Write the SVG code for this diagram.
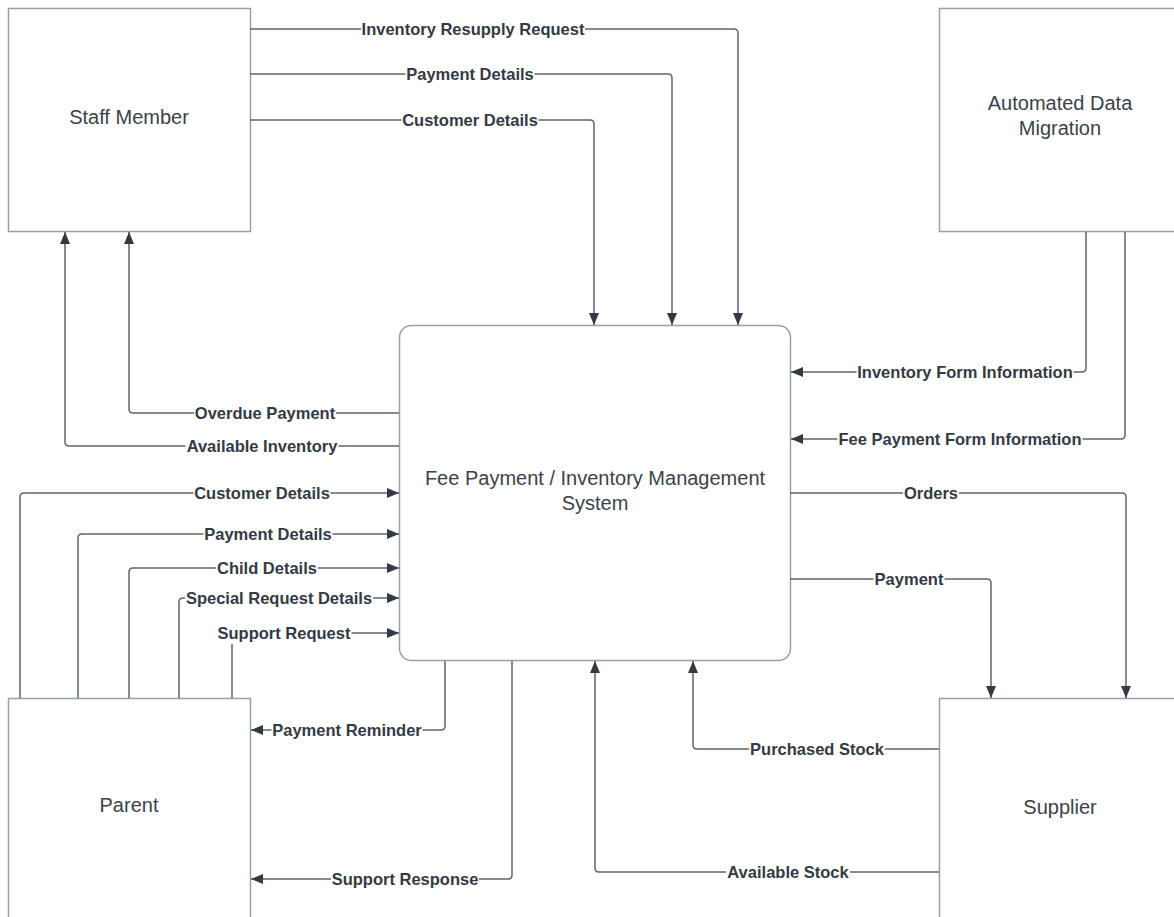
<svg xmlns="http://www.w3.org/2000/svg" width="1174" height="917" viewBox="0 0 1174 917">
<style>
.box{fill:#ffffff;stroke:#9a9ea5;stroke-width:1.5}
.btxt{font-family:"Liberation Sans",Arial,sans-serif;font-size:20px;fill:#3b424c;text-anchor:middle}
.c{fill:none;stroke:#5f656e;stroke-width:1.5}
.lbg{fill:#ffffff}
.ltxt{font-family:"Liberation Sans",Arial,sans-serif;font-size:16.5px;font-weight:bold;fill:#333a44;text-anchor:middle}
</style>
<defs>
<marker id="ah" markerUnits="userSpaceOnUse" markerWidth="14" markerHeight="12" refX="12" refY="5" orient="auto">
<path d="M0,0 L12,5 L0,10 Z" fill="#333a44"/>
</marker>
</defs>
<rect width="1174" height="917" fill="#ffffff"/>

<g id="staff-member">
<rect class="box" x="8.5" y="8.5" width="242" height="223"/>
<text class="btxt" x="129" y="124">Staff Member</text>
</g>
<g id="automated-data-migration">
<rect class="box" x="939.5" y="8.5" width="250" height="223"/>
<text class="btxt" x="1060" y="110">Automated Data</text>
<text class="btxt" x="1060" y="135">Migration</text>
</g>
<g id="system">
<rect class="box" x="399.5" y="325.5" width="391" height="335" rx="12" ry="12"/>
<text class="btxt" x="595" y="485">Fee Payment / Inventory Management</text>
<text class="btxt" x="595" y="510">System</text>
</g>
<g id="parent">
<rect class="box" x="8.5" y="698.5" width="242" height="250"/>
<text class="btxt" x="129" y="812">Parent</text>
</g>
<g id="supplier">
<rect class="box" x="939.5" y="698.5" width="250" height="250"/>
<text class="btxt" x="1060" y="814">Supplier</text>
</g>

<g id="connectors">
<path class="c" marker-end="url(#ah)" d="M250,29 H734 Q738,29 738,33 V325"/>
<path class="c" marker-end="url(#ah)" d="M250,74 H668 Q672,74 672,78 V325"/>
<path class="c" marker-end="url(#ah)" d="M250,120 H590 Q594,120 594,124 V325"/>
<path class="c" marker-end="url(#ah)" d="M399,413 H133 Q129,413 129,409 V232"/>
<path class="c" marker-end="url(#ah)" d="M399,446 H69 Q65,446 65,442 V232"/>
<path class="c" marker-end="url(#ah)" d="M20,698 V497 Q20,493 24,493 H399"/>
<path class="c" marker-end="url(#ah)" d="M78,698 V538 Q78,534 82,534 H399"/>
<path class="c" marker-end="url(#ah)" d="M129,698 V572 Q129,568 133,568 H399"/>
<path class="c" marker-end="url(#ah)" d="M179,698 V602 Q179,598 183,598 H399"/>
<path class="c" marker-end="url(#ah)" d="M232,698 V633 H399"/>
<path class="c" marker-end="url(#ah)" d="M445,661 V726 Q445,730 441,730 H251"/>
<path class="c" marker-end="url(#ah)" d="M512,661 V875 Q512,879 508,879 H251"/>
<path class="c" marker-end="url(#ah)" d="M939,872 H599 Q595,872 595,868 V661"/>
<path class="c" marker-end="url(#ah)" d="M939,749 H697 Q693,749 693,745 V661"/>
<path class="c" marker-end="url(#ah)" d="M790,493 H1122 Q1126,493 1126,497 V698"/>
<path class="c" marker-end="url(#ah)" d="M790,579 H987 Q991,579 991,583 V698"/>
<path class="c" marker-end="url(#ah)" d="M1086,232 V368 Q1086,372 1082,372 H791"/>
<path class="c" marker-end="url(#ah)" d="M1125,232 V435 Q1125,439 1121,439 H791"/>

<rect class="lbg" x="361" y="20" width="224" height="18"/><text class="ltxt" x="473" y="35">Inventory Resupply Request</text>
<rect class="lbg" x="405.5" y="65" width="129" height="18"/><text class="ltxt" x="470" y="80">Payment Details</text>
<rect class="lbg" x="401.5" y="111" width="137" height="18"/><text class="ltxt" x="470" y="126">Customer Details</text>
<rect class="lbg" x="194" y="404" width="142" height="18"/><text class="ltxt" x="265" y="419">Overdue Payment</text>
<rect class="lbg" x="185.5" y="437" width="153" height="18"/><text class="ltxt" x="262" y="452">Available Inventory</text>
<rect class="lbg" x="193.5" y="484" width="137" height="18"/><text class="ltxt" x="262" y="499">Customer Details</text>
<rect class="lbg" x="203.5" y="525" width="129" height="18"/><text class="ltxt" x="268" y="540">Payment Details</text>
<rect class="lbg" x="216" y="559" width="102" height="18"/><text class="ltxt" x="267" y="574">Child Details</text>
<rect class="lbg" x="185" y="589" width="188" height="18"/><text class="ltxt" x="279" y="604">Special Request Details</text>
<rect class="lbg" x="216.5" y="624" width="135" height="20"/><text class="ltxt" x="284" y="639">Support Request</text>
<rect class="lbg" x="271.5" y="721" width="151" height="18"/><text class="ltxt" x="347" y="736">Payment Reminder</text>
<rect class="lbg" x="331" y="870" width="148" height="18"/><text class="ltxt" x="405" y="885">Support Response</text>
<rect class="lbg" x="726" y="863" width="124" height="18"/><text class="ltxt" x="788" y="878">Available Stock</text>
<rect class="lbg" x="749" y="740" width="136" height="18"/><text class="ltxt" x="817" y="755">Purchased Stock</text>
<rect class="lbg" x="903" y="484" width="56" height="18"/><text class="ltxt" x="931" y="499">Orders</text>
<rect class="lbg" x="873.5" y="570" width="71" height="18"/><text class="ltxt" x="909" y="585">Payment</text>
<rect class="lbg" x="856.5" y="363" width="217" height="18"/><text class="ltxt" x="965" y="378">Inventory Form Information</text>
<rect class="lbg" x="837.5" y="430" width="245" height="18"/><text class="ltxt" x="960" y="445">Fee Payment Form Information</text>
</g>
</svg>
